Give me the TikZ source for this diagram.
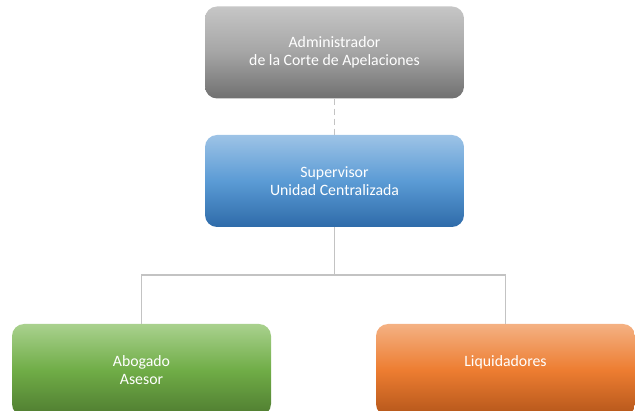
\documentclass[tikz,border=0pt]{standalone}
\usepackage{fontspec}
\setmainfont{Carlito}
\definecolor{grayT}{HTML}{C6C6C6}
\definecolor{grayM}{HTML}{A5A5A5}
\definecolor{grayB}{HTML}{707070}
\definecolor{blueT}{HTML}{9DC3E6}
\definecolor{blueM}{HTML}{5B9BD5}
\definecolor{blueB}{HTML}{2E6BA9}
\definecolor{greenT}{HTML}{A9D18E}
\definecolor{greenM}{HTML}{70AD47}
\definecolor{greenB}{HTML}{4F7C30}
\definecolor{orangeT}{HTML}{F4B183}
\definecolor{orangeM}{HTML}{ED7D31}
\definecolor{orangeB}{HTML}{B4561A}
\definecolor{linec}{HTML}{C3C3C3}
\tikzset{
  box/.style={rounded corners=12pt, minimum width=259pt, minimum height=92pt,
    text=white, align=center, font=\fontsize{15.8}{18}\selectfont, inner sep=0pt},
  grayfill/.style={top color=grayT, bottom color=grayB, middle color=grayM},
  bluefill/.style={top color=blueT, bottom color=blueB, middle color=blueM},
  greenfill/.style={top color=greenT, bottom color=greenB, middle color=greenM},
  orangefill/.style={top color=orangeT, bottom color=orangeB, middle color=orangeM},
  conn/.style={draw=linec, line width=1.3pt},
}
\begin{document}
\begin{tikzpicture}[x=1pt,y=-1pt]
\useasboundingbox (0,0) rectangle (635,411);
\node[box, grayfill] (admin) at (334.5,52.5) {Administrador\\de la Corte de Apelaciones};
\node[box, bluefill] (sup) at (334.5,181) {Supervisor\\Unidad Centralizada};
\node[box, greenfill] (abo) at (141.5,370) {Abogado\\Asesor};
\node[box, orangefill] (liq) at (505.5,370) {Liquidadores\\\mbox{}};
\coordinate (j) at (334.5,275);
\draw[conn, dashed, dash pattern=on 6pt off 4pt] (admin.south) -- (sup.north);
\draw[conn] (sup.south) -- (j);
\draw[conn] (abo.north) |- (j) -| (liq.north);
\end{tikzpicture}
\end{document}
